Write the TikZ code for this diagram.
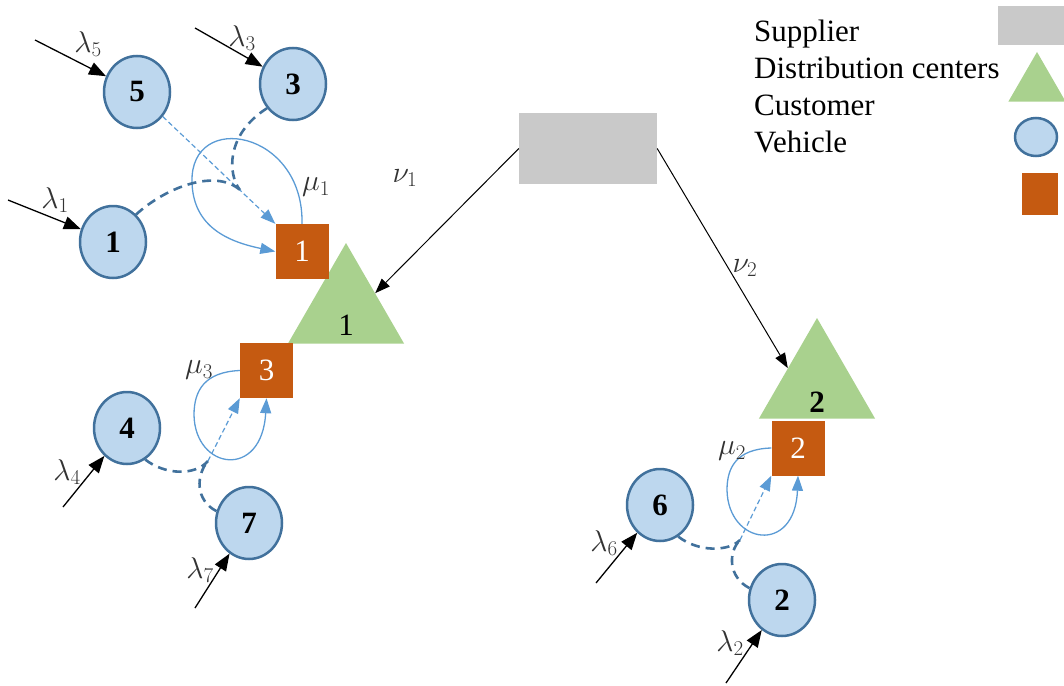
\documentclass[tikz,border=0pt]{standalone}
\usepackage{fix-cm}
\usepackage{fontspec}
\setmainfont{Liberation Serif}
\usetikzlibrary{arrows.meta,shapes.geometric}
\definecolor{custfill}{RGB}{189,215,238}
\definecolor{custline}{RGB}{65,113,156}
\definecolor{vehfill}{RGB}{197,90,17}
\definecolor{dcfill}{RGB}{169,209,142}
\definecolor{supfill}{RGB}{201,201,201}
\definecolor{tripblue}{RGB}{91,155,213}
\begin{document}
\begin{tikzpicture}[x=1pt,y=-1pt,
  every node/.style={font=\fontsize{31}{37}\selectfont},
  customer/.style={ellipse,draw=custline,fill=custfill,line width=2.5pt,minimum width=66pt,minimum height=72pt,inner sep=0pt,font=\fontsize{31}{37}\selectfont\bfseries},
  vehicle/.style={rectangle,fill=vehfill,text=white,minimum width=53pt,minimum height=55pt,inner sep=0pt},
  depot/.style={regular polygon,regular polygon sides=3,fill=dcfill,minimum size=134pt,inner sep=0pt},
  supplier/.style={rectangle,fill=supfill,inner sep=0pt},
  legend/.style={anchor=base west,inner sep=0pt},
  rate/.style={font=\fontsize{30}{34}\selectfont,text=black!80,inner sep=0pt},
  arrival/.style={line width=1.3pt,-{Triangle[length=17pt,width=13pt]}},
  feed/.style={line width=1pt,-{Triangle[length=15pt,width=11pt]}},
  trip/.style={tripblue,line width=1.3pt,-{Triangle[length=15pt,width=11pt]}},
  back/.style={tripblue,line width=1.2pt,dash pattern=on 5pt off 3pt,-{Triangle[length=15pt,width=11pt]}},
  route/.style={custline,line width=2.6pt,dash pattern=on 9pt off 6pt}]
\useasboundingbox (0,0) rectangle (1064,685);

% supplier and distribution centers
\node[supplier,minimum width=138pt,minimum height=71pt] (sup) at (588,148.5) {};
\node[depot,label={[yshift=-15pt]center:1}] (dc1) at (346,310) {};
\node[depot,label={[yshift=-17pt,font=\fontsize{31}{37}\selectfont\bfseries]center:2}] (dc2) at (817,385) {};
\draw[feed] (sup.west) -- (dc1.side 3);
\draw[feed] (sup.east) -- (dc2.side 1);
\node[rate] (nu1) at (405,178) {$\nu_1$};
\node[rate] (nu2) at (745,268) {$\nu_2$};

% vehicles
\node[vehicle] (v1) at (302,251.5) {1};
\node[vehicle] (v3) at (266.5,370.5) {3};
\node[vehicle] (v2) at (798,448) {2};

% customers
\node[customer] (c5) at (137,92) {5};
\node[customer] (c3) at (293,84) {3};
\node[customer] (c1) at (113,242) {1};
\node[customer] (c4) at (127,428) {4};
\node[customer] (c7) at (249,523) {7};
\node[customer] (c6) at (660,505) {6};
\node[customer] (c2) at (782,600) {2};

% arrivals
\coordinate (s5) at (35,40);
\coordinate (s3) at (195,28);
\coordinate (s1) at (8,200);
\coordinate (s4) at (63,507);
\coordinate (s7) at (195,608);
\coordinate (s6) at (596,583);
\coordinate (s2) at (726,683);
\draw[arrival] (s5) -- (c5);
\draw[arrival] (s3) -- (c3);
\draw[arrival] (s1) -- (c1);
\draw[arrival] (s4) -- (c4);
\draw[arrival] (s7) -- (c7);
\draw[arrival] (s6) -- (c6);
\draw[arrival] (s2) -- (c2);
\node[rate] (l5) at (88,44) {$\lambda_5$};
\node[rate] (l3) at (242,38) {$\lambda_3$};
\node[rate] (l1) at (55,200) {$\lambda_1$};
\node[rate] (l4) at (67,472) {$\lambda_4$};
\node[rate] (l7) at (200,570) {$\lambda_7$};
\node[rate] (l6) at (604,543) {$\lambda_6$};
\node[rate] (l2) at (730,643) {$\lambda_2$};

% service loops
\draw[trip] (v1.north) .. controls (304,130) and (190,110) .. (192,182)
  .. controls (193,228) and (230,242) .. (v1.west);
\draw[trip] (v3.west) .. controls (205,372) and (194,390) .. (194,415)
  .. controls (195,470) and (262,480) .. (v3.south);
\draw[trip] (v2.west) .. controls (736,449) and (727,468) .. (727,490)
  .. controls (728,545) and (795,555) .. (v2.south);
\node[rate] (mu1) at (316,187) {$\mu_1$};
\node[rate] (mu3) at (199,370) {$\mu_3$};
\node[rate] (mu2) at (732,451) {$\mu_2$};

% routes back to the vehicles
\coordinate (j1) at (240,190);
\coordinate (j3) at (208,461);
\coordinate (j2) at (740,540);
\draw[back] (c5) -- (v1.north west);
\draw[route] (c1.50) .. controls (165,188) and (215,168) .. (j1);
\draw[route] (c3.-137) .. controls (225,135) and (228,175) .. (j1);
\draw[back] (j3) -- (v3.south west);
\draw[route] (c4.-60) .. controls (165,475) and (195,476) .. (j3);
\draw[route] (c7.160) .. controls (195,500) and (196,475) .. (j3);
\draw[back] (j2) -- (v2.south west);
\draw[route] (c6.-60) .. controls (698,552) and (728,552) .. (j2);
\draw[route] (c2.160) .. controls (728,577) and (728,552) .. (j2);

% legend
\node[legend] (tsup) at (754,41.5) {Supplier};
\node[legend] (tdc) at (754,78.5) {Distribution centers};
\node[legend] (tcus) at (754,115.5) {Customer};
\node[legend] (tveh) at (754,152.5) {Vehicle};
\node[supplier,minimum width=66pt,minimum height=39pt] (ksup) at (1031,26) {};
\node[depot,minimum size=66pt] (kdc) at (1037,85) {};
\node[customer,minimum width=42pt,minimum height=38pt] (kcus) at (1036,137) {};
\node[vehicle,minimum width=36pt,minimum height=42pt] (kveh) at (1040,194) {};
\end{tikzpicture}
\end{document}
